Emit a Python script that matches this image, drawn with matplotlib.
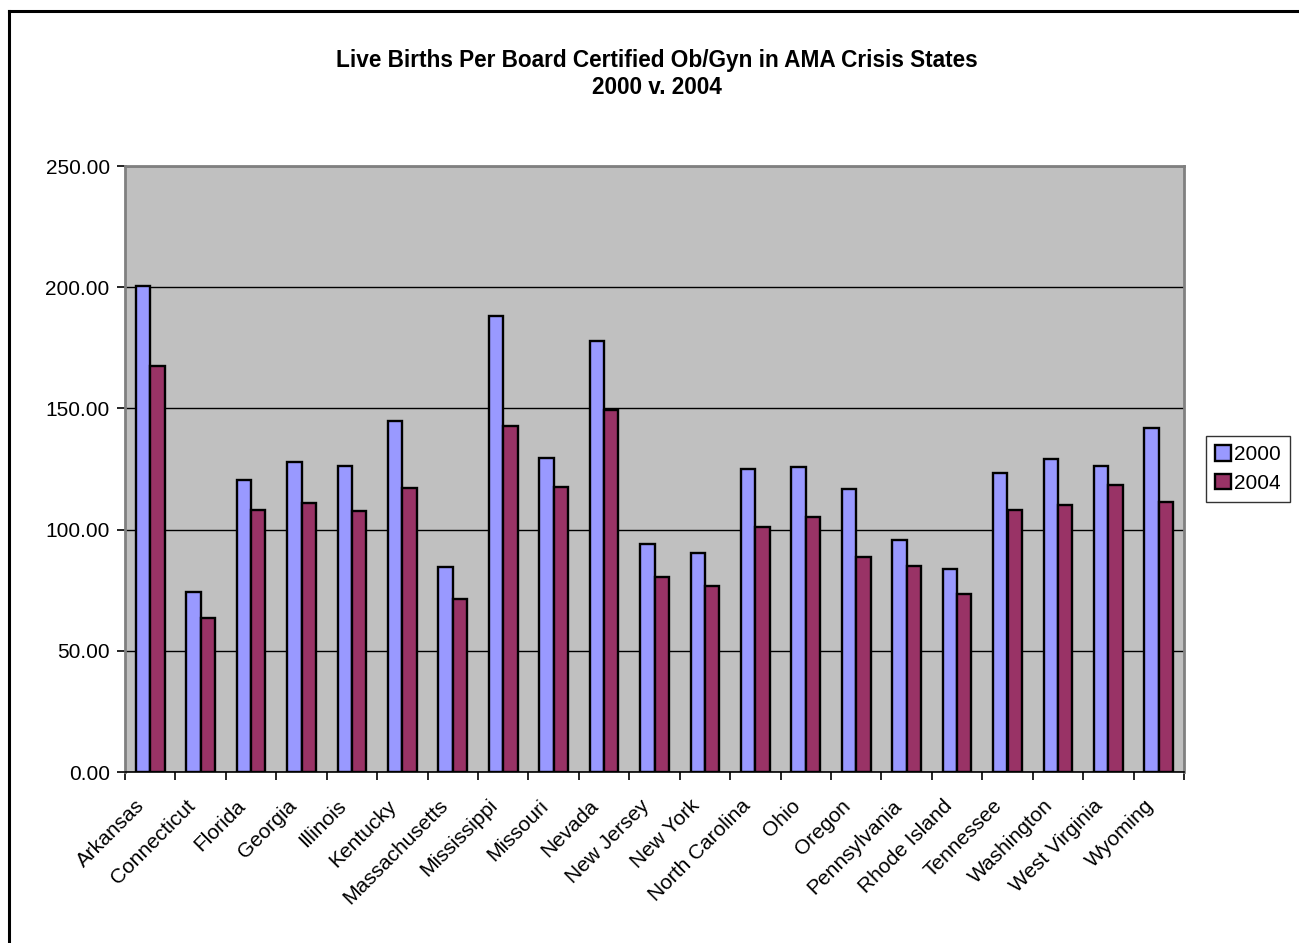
import matplotlib
matplotlib.use("Agg")
import matplotlib.pyplot as plt
import numpy as np
from matplotlib.lines import Line2D
from matplotlib.transforms import ScaledTranslation

plt.rcParams['font.family'] = ['Liberation Sans', 'DejaVu Sans']

states = ["Arkansas", "Connecticut", "Florida", "Georgia", "Illinois", "Kentucky",
          "Massachusetts", "Mississippi", "Missouri", "Nevada", "New Jersey", "New York",
          "North Carolina", "Ohio", "Oregon", "Pennsylvania", "Rhode Island", "Tennessee",
          "Washington", "West Virginia", "Wyoming"]
births_2000 = [200.7, 74.1, 120.3, 127.9, 126.2, 144.8, 84.4, 188.1, 129.5, 178.0,
               94.2, 90.5, 124.8, 126.0, 116.7, 95.9, 83.6, 123.4, 129.1, 126.2, 141.9]
births_2004 = [167.5, 63.7, 107.9, 111.0, 107.7, 117.2, 71.5, 142.9, 117.4, 149.5,
               80.4, 76.7, 100.9, 105.2, 88.7, 85.1, 73.6, 108.1, 110.1, 118.3, 111.5]
series_labels = ["2000", "2004"]
yticks = [0, 50, 100, 150, 200, 250]
title_lines = ["Live Births Per Board Certified Ob/Gyn in AMA Crisis States", "2000 v. 2004"]

W, H = 1299, 943
fig = plt.figure(figsize=(W / 100, H / 100), dpi=100)
fig.patch.set_facecolor("white")

L, R, T, B = 125, 1184, 166, 772
ax = fig.add_axes([L / W, 1 - B / H, (R - L) / W, (B - T) / H])
ax.set_facecolor("#C0C0C0")

n = len(states)
x = np.arange(n)
w = 1 / 3.5
ax.bar(x - w / 2, births_2000, w, color="#9999FF", edgecolor="black", linewidth=1.7,
       label=series_labels[0], zorder=3)
ax.bar(x + w / 2, births_2004, w, color="#993366", edgecolor="black", linewidth=1.7,
       label=series_labels[1], zorder=3)

ax.set_xlim(-0.5, n - 0.5)
ax.set_ylim(0, 250)
ax.set_yticks(yticks)
ax.set_yticklabels([f"{v:.2f}" for v in yticks], fontsize=15)
ax.yaxis.grid(True, color="black", linewidth=1.0, zorder=1)
ax.set_axisbelow(True)

# category labels (rotated), tick marks at category boundaries
ax.set_xticks(x)
ax.set_xticklabels([])
ax.tick_params(axis="x", which="major", length=0)
off = ScaledTranslation(-15 / 100, -24 / 100, fig.dpi_scale_trans)
for xi, name in zip(x, states):
    ax.text(xi, 0, name, transform=ax.get_xaxis_transform() + off, rotation=45,
            ha="right", va="top", rotation_mode="anchor", fontsize=15, clip_on=False)
ax.set_xticks(np.arange(-0.5, n, 1), minor=True)
ax.tick_params(axis="x", which="minor", length=6, width=1.2, color="black", direction="out")
ax.tick_params(axis="y", length=6, width=1.2, color="black", direction="out", pad=5)

for s in ["top", "right", "left"]:
    ax.spines[s].set_color("#808080")
    ax.spines[s].set_linewidth(2)
ax.spines["bottom"].set_color("black")
ax.spines["bottom"].set_linewidth(1.2)

fig.text(657 / W, 1 - 60 / H, title_lines[0], ha="center", va="center",
         fontsize=16.3, fontweight="bold")
fig.text(657 / W, 1 - 88 / H, title_lines[1], ha="center", va="center",
         fontsize=16.3, fontweight="bold")

leg = ax.legend(loc="center left", bbox_to_anchor=((1206 - L) / (R - L), (B - 469) / (B - T)),
                frameon=True, fancybox=False, fontsize=15, handlelength=0.75,
                handleheight=0.75, handletextpad=0.15, borderpad=0.45, labelspacing=0.45,
                borderaxespad=0)
leg.get_frame().set_edgecolor("black")
leg.get_frame().set_linewidth(1.0)
for p in leg.get_patches():
    p.set_linewidth(1.7)

# outer chart border (left and top visible)
bx, by = 8.5, 10.8
fig.add_artist(Line2D([bx / W, bx / W], [0, 1 - by / H], color="black", linewidth=2.2,
                      transform=fig.transFigure))
fig.add_artist(Line2D([bx / W, 1], [1 - by / H, 1 - by / H], color="black", linewidth=2.2,
                      transform=fig.transFigure))

fig.savefig("out.png", dpi=100)
